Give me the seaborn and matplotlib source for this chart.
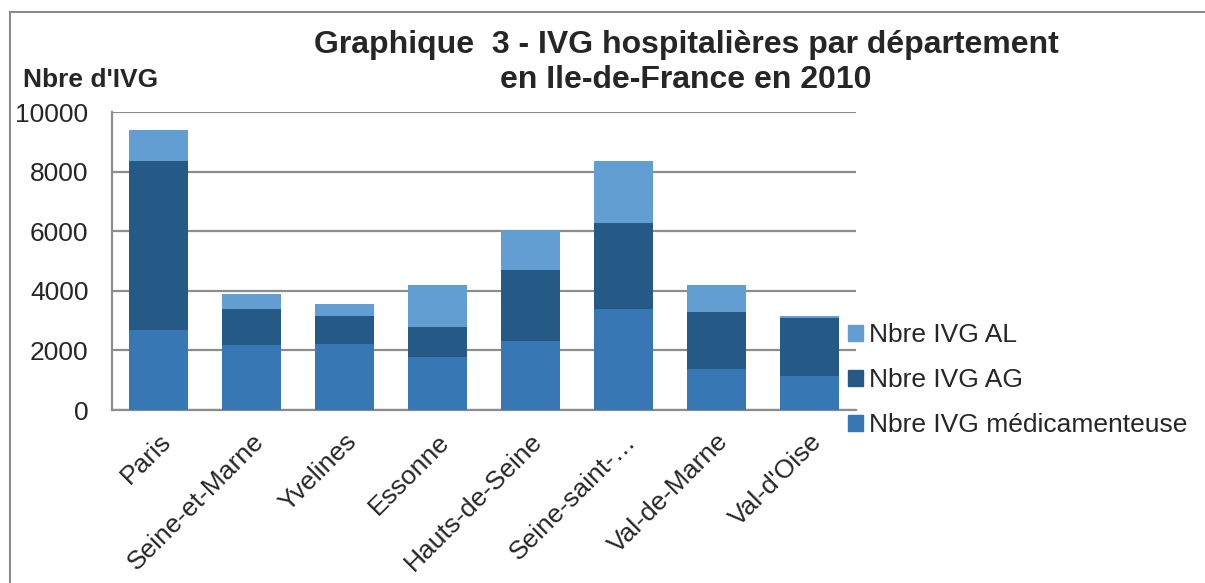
import matplotlib
matplotlib.use("Agg")
import matplotlib.pyplot as plt
import seaborn as sns
import pandas as pd
from matplotlib.patches import Rectangle

departements = ["Paris", "Seine-et-Marne", "Yvelines", "Essonne",
                "Hauts-de-Seine", "Seine-saint-…", "Val-de-Marne", "Val-d'Oise"]
ivg_medic = [2700, 2180, 2210, 1790, 2320, 3390, 1390, 1140]
ivg_ag = [5650, 1220, 950, 990, 2370, 2880, 1900, 1940]
ivg_al = [1030, 500, 390, 1410, 1340, 2090, 900, 90]
y_ticks = [0, 2000, 4000, 6000, 8000, 10000]

col_medic = "#3778B4"
col_ag = "#255A87"
col_al = "#629ED2"

df = pd.DataFrame({"dep": departements, "medic": ivg_medic, "ag": ivg_ag, "al": ivg_al})
df["cum_ag"] = df["medic"] + df["ag"]
df["cum_al"] = df["cum_ag"] + df["al"]

sns.set_style("white")
plt.rcParams["font.family"] = ["Liberation Sans", "DejaVu Sans"]

fig = plt.figure(figsize=(12.05, 5.83), dpi=100)
ax = fig.add_axes([112 / 1205, 1 - 410 / 583, 744 / 1205, 298 / 583])

# barres empilées : on trace les cumuls du haut vers le bas
for col, color in [("cum_al", col_al), ("cum_ag", col_ag), ("medic", col_medic)]:
    sns.barplot(data=df, x="dep", y=col, color=color, width=0.645,
                saturation=1, linewidth=0, ax=ax, zorder=3)

ax.set_ylim(0, 10000)
ax.set_yticks(y_ticks)
ax.set_yticklabels([str(v) for v in y_ticks], fontsize=19)
ax.set_xlim(-0.5, len(departements) - 0.5)
ax.set_xlabel("")
ax.set_ylabel("")
ax.yaxis.grid(True, color="#8c8c8c", linewidth=1.6, zorder=0)
ax.set_axisbelow(True)
for s in ["top", "right"]:
    ax.spines[s].set_visible(False)
for s in ["left", "bottom"]:
    ax.spines[s].set_color("#8c8c8c")
    ax.spines[s].set_linewidth(1.6)
ax.tick_params(axis="y", length=0, pad=17)
ax.set_xticks(range(len(departements)))
ax.set_xticklabels(departements, rotation=45, ha="right",
                   rotation_mode="anchor", fontsize=19)
ax.tick_params(axis="x", length=0, pad=14)

fig.text(686 / 1205, 1 - 45 / 583, "Graphique  3 - IVG hospitalières par département",
         ha="center", va="center", fontsize=23, fontweight="bold")
fig.text(686 / 1205, 1 - 80 / 583, "en Ile-de-France en 2010",
         ha="center", va="center", fontsize=23, fontweight="bold")
fig.text(23 / 1205, 1 - 80 / 583, "Nbre d'IVG", ha="left", va="center",
         fontsize=19, fontweight="bold")

handles = [Rectangle((0, 0), 1, 1, color=c) for c in (col_al, col_ag, col_medic)]
labels = ["Nbre IVG AL", "Nbre IVG AG", "Nbre IVG médicamenteuse"]
fig.legend(handles, labels, loc="upper left", bbox_to_anchor=(848 / 1205, 1 - 323 / 583),
           frameon=False, fontsize=19, handlelength=0.55, handleheight=0.55,
           handletextpad=0.25, labelspacing=0.8, borderaxespad=0, borderpad=0)

# cadre extérieur
fig.add_artist(Rectangle((10 / 1205, -0.01), 1.2, 1 - 12 / 583 + 0.01,
                         transform=fig.transFigure, fill=False,
                         edgecolor="#8c8c8c", linewidth=1.5))

fig.savefig("out.png", dpi=100)
